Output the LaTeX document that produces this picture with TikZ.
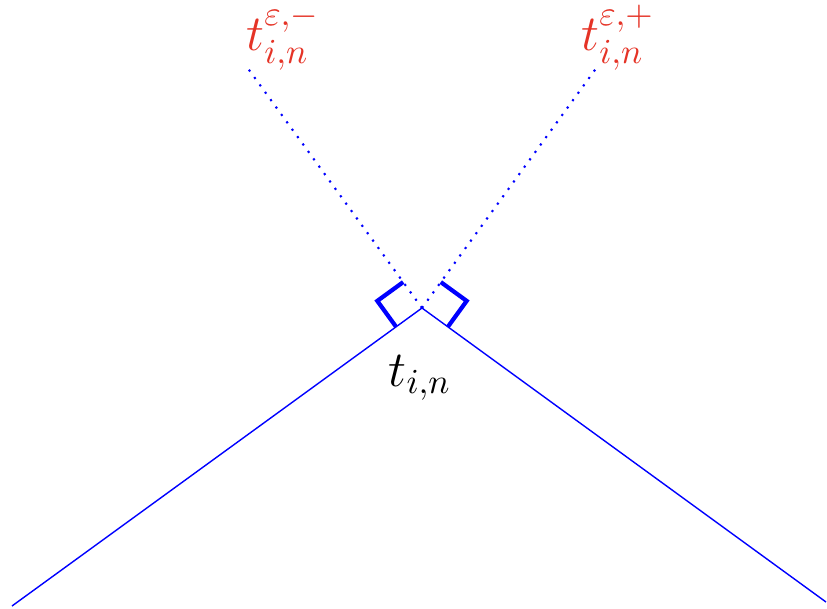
\documentclass[tikz,border=0pt]{standalone}
\usepackage{amsmath,amssymb}
\usetikzlibrary{calc}
\definecolor{lblred}{rgb}{0.90,0.20,0.15}

\begin{document}
\begin{tikzpicture}[every node/.style={font=\Large}, mark90/.style={blue, very thick}]
	\useasboundingbox (0,0) rectangle (8.27,6.08);
	\coordinate (apex) at (4.22,3.00);
	\coordinate (lend) at (0.12,0.02);
	\coordinate (rend) at (8.26,0.06);
	\coordinate (lnorm) at ($(apex)+(126:2.96)$);
	\coordinate (rnorm) at ($(apex)+(54:2.96)$);
	\draw[blue, thin] (lend) -- (apex) -- (rend);
	\draw[blue, dotted, semithick] (apex) -- (lnorm);
	\draw[blue, dotted, semithick] (apex) -- (rnorm);
	\draw[mark90] ($(apex)+(216:0.32)$) -- ++(126:0.32) -- ++(36:0.32);
	\draw[mark90] ($(apex)+(324:0.32)$) -- ++(54:0.32) -- ++(144:0.32);
	\node[lblred] (tm) at (2.83,5.70) {$t^{\varepsilon,-}_{i,n}$};
	\node[lblred] (tp) at (6.18,5.70) {$t^{\varepsilon,+}_{i,n}$};
	\node (t) at (4.20,2.30) {$t_{i,n}$};
\end{tikzpicture}
\end{document}
